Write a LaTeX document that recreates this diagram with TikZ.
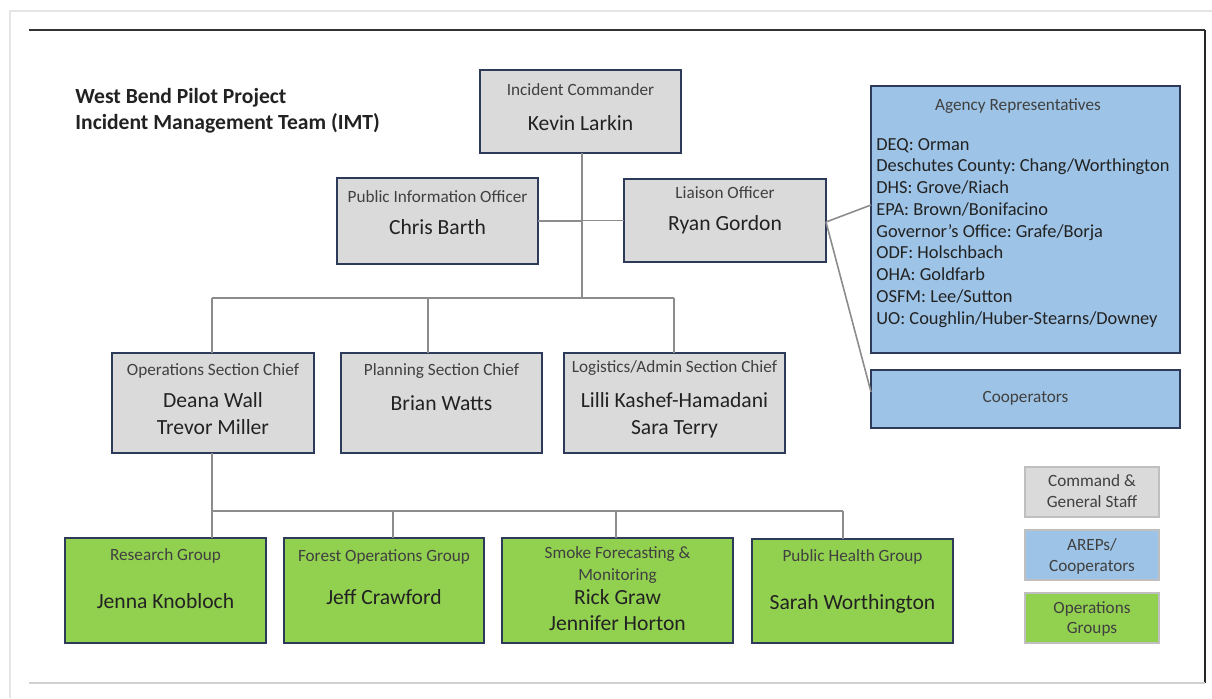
\documentclass[tikz,border=0pt]{standalone}
\usepackage{fontspec}
\setmainfont{Carlito}
\frenchspacing
\definecolor{gfill}{HTML}{DADADA}
\definecolor{bfill}{HTML}{9DC3E6}
\definecolor{grfill}{HTML}{92D050}
\definecolor{edge}{HTML}{2E3A59}
\definecolor{conn}{HTML}{8C8C8C}
\definecolor{ttlc}{HTML}{404040}
\definecolor{namec}{HTML}{222222}
\newcommand{\boxat}[6]{\node[#2, minimum width={(#5-#3)*0.5pt}, minimum height={(#6-#4)*0.5pt}, anchor=north west] (#1) at (#3,#4) {};}
\begin{document}
\begin{tikzpicture}[x=0.5pt,y=-0.5pt,
  box/.style={draw=edge, line width=1.3pt, inner sep=0pt, outer sep=0pt},
  graybox/.style={box, fill=gfill},
  bluebox/.style={box, fill=bfill},
  greenbox/.style={box, fill=grfill},
  legbox/.style={draw=black!25, line width=1pt, inner sep=0pt, outer sep=0pt},
  ttl/.style={anchor=base, inner sep=0pt, text=ttlc, font=\fontsize{8.6}{10.5}\selectfont, yshift=-2.5pt},
  nm/.style={anchor=base, inner sep=0pt, text=namec, font=\fontsize{10.8}{13}\selectfont, yshift=-3.5pt},
  lst/.style={anchor=base west, inner sep=0pt, text=namec, font=\fontsize{9.2}{11}\selectfont, yshift=-3pt},
  conline/.style={draw=conn, line width=0.8pt}
]
\useasboundingbox (0,0) rectangle (1212,698);
\fill[white] (0,0) rectangle (1212,698);
% frames
\draw[black!10, line width=0.6pt] (10,698) -- (10,11) -- (1212,11);
\draw[black!80, line width=1pt] (29,30) -- (1205,30);
\draw[black!85, line width=1.4pt] (1205,30) -- (1205,683);
\draw[black!18, line width=0.8pt] (29,683) -- (1205,683);
% heading
\node[anchor=base west, inner sep=0pt, text=namec, font=\fontsize{10.8}{13}\bfseries\selectfont] (h1) at (75,103) {West Bend Pilot Project};
\node[anchor=base west, inner sep=0pt, text=namec, font=\fontsize{10.8}{13}\bfseries\selectfont] (h2) at (75,129) {Incident Management Team (IMT)};
% connector points
\coordinate (bl) at (212,298);
\coordinate (bm) at (428,298);
\coordinate (br) at (674,298);
\coordinate (gl) at (212,511);
\coordinate (g2) at (393,511);
\coordinate (g3) at (616,511);
\coordinate (gr) at (843,511);
\coordinate (lo) at (826,222);
\coordinate (ae) at (871,205);
\coordinate (ce) at (871,392);
% boxes
\boxat{ic}{graybox}{480}{70}{681}{153}
\boxat{pio}{graybox}{337}{178}{538}{264}
\boxat{lia}{graybox}{624}{179}{826}{262}
\boxat{ar}{bluebox}{871}{86}{1180}{353}
\boxat{coop}{bluebox}{871}{370}{1180}{428}
\boxat{ops}{graybox}{112}{353}{314}{453}
\boxat{plan}{graybox}{341}{353}{542}{453}
\boxat{log}{graybox}{564}{353}{785}{453}
\boxat{res}{greenbox}{65}{538}{266}{643}
\boxat{for}{greenbox}{284}{538}{484}{643}
\boxat{smk}{greenbox}{502}{538}{733}{643}
\boxat{ph}{greenbox}{752}{539}{953}{643}
\boxat{lg1}{legbox, fill=gfill}{1025}{467}{1159}{517}
\boxat{lg2}{legbox, fill=bfill}{1025}{530}{1159}{580}
\boxat{lg3}{legbox, fill=grfill}{1025}{593}{1159}{643}
% connector lines
\draw[conline] (ic.south -| 582,0) -- (582,298);
\draw[conline] (pio.east) -- (pio.east -| 582,0);
\draw[conline] (lia.west) -- (lia.west -| 582,0);
\draw[conline] (bl) -- (br);
\draw[conline] (bl) -- (ops.north -| bl);
\draw[conline] (bm) -- (plan.north -| bm);
\draw[conline] (br) -- (log.north -| br);
\draw[conline] (ops.south -| gl) -- (gl) -- (gr);
\draw[conline] (gl) -- (res.north -| gl);
\draw[conline] (g2) -- (for.north -| g2);
\draw[conline] (g3) -- (smk.north -| g3);
\draw[conline] (gr) -- (ph.north -| gr);
\draw[conline] (lo) -- (ae);
\draw[conline] (lo) -- (ce);
% texts
\node[ttl] (ic-t) at (580.5,90) {Incident Commander};
\node[nm] (ic-n) at (580.5,123) {Kevin Larkin};
\node[ttl] (pio-t) at (437.5,197) {Public Information Officer};
\node[nm] (pio-n) at (437.5,227) {Chris Barth};
\node[ttl] (lia-t) at (725,193) {Liaison Officer};
\node[nm] (lia-n) at (725,223) {Ryan Gordon};
\node[ttl] (ar-t) at (1018,105) {Agency Representatives};
\node[lst] (ar1) at (876,144) {DEQ: Orman};
\node[lst] (ar2) at (876,165.75) {Deschutes County: Chang/Worthington};
\node[lst] (ar3) at (876,187.5) {DHS: Grove/Riach};
\node[lst] (ar4) at (876,209.25) {EPA: Brown/Bonifacino};
\node[lst] (ar5) at (876,231) {Governor’s Office: Grafe/Borja};
\node[lst] (ar6) at (876,252.75) {ODF: Holschbach};
\node[lst] (ar7) at (876,274.5) {OHA: Goldfarb};
\node[lst] (ar8) at (876,296.25) {OSFM: Lee/Sutton};
\node[lst] (ar9) at (876,318) {UO: Coughlin/Huber-Stearns/Downey};
\node[ttl] (coop-t) at (1025.5,397) {Cooperators};
\node[ttl] (ops-t) at (213,370) {Operations Section Chief};
\node[nm] (ops-n1) at (213,400) {Deana Wall};
\node[nm] (ops-n2) at (213,427) {Trevor Miller};
\node[ttl] (plan-t) at (441.5,370) {Planning Section Chief};
\node[nm] (plan-n) at (441.5,403) {Brian Watts};
\node[ttl] (log-t) at (674.5,367) {Logistics/Admin Section Chief};
\node[nm] (log-n1) at (674.5,400) {Lilli Kashef-Hamadani};
\node[nm] (log-n2) at (674.5,427) {Sara Terry};
\node[ttl] (res-t) at (165.5,555) {Research Group};
\node[nm] (res-n) at (165.5,601) {Jenna Knobloch};
\node[ttl] (for-t) at (384,556) {Forest Operations Group};
\node[nm] (for-n) at (384,597) {Jeff Crawford};
\node[ttl] (smk-t1) at (617.5,553) {Smoke Forecasting \&};
\node[ttl] (smk-t2) at (617.5,575) {Monitoring};
\node[nm] (smk-n1) at (617.5,597) {Rick Graw};
\node[nm] (smk-n2) at (617.5,623) {Jennifer Horton};
\node[ttl] (ph-t) at (852.5,556) {Public Health Group};
\node[nm] (ph-n) at (852.5,602) {Sarah Worthington};
\node[ttl] (lg1-a) at (1092,481) {Command \&};
\node[ttl] (lg1-b) at (1092,502) {General Staff};
\node[ttl] (lg2-a) at (1092,545) {AREPs/};
\node[ttl] (lg2-b) at (1092,566) {Cooperators};
\node[ttl] (lg3-a) at (1092,608) {Operations};
\node[ttl] (lg3-b) at (1092,628) {Groups};
\end{tikzpicture}
\end{document}
